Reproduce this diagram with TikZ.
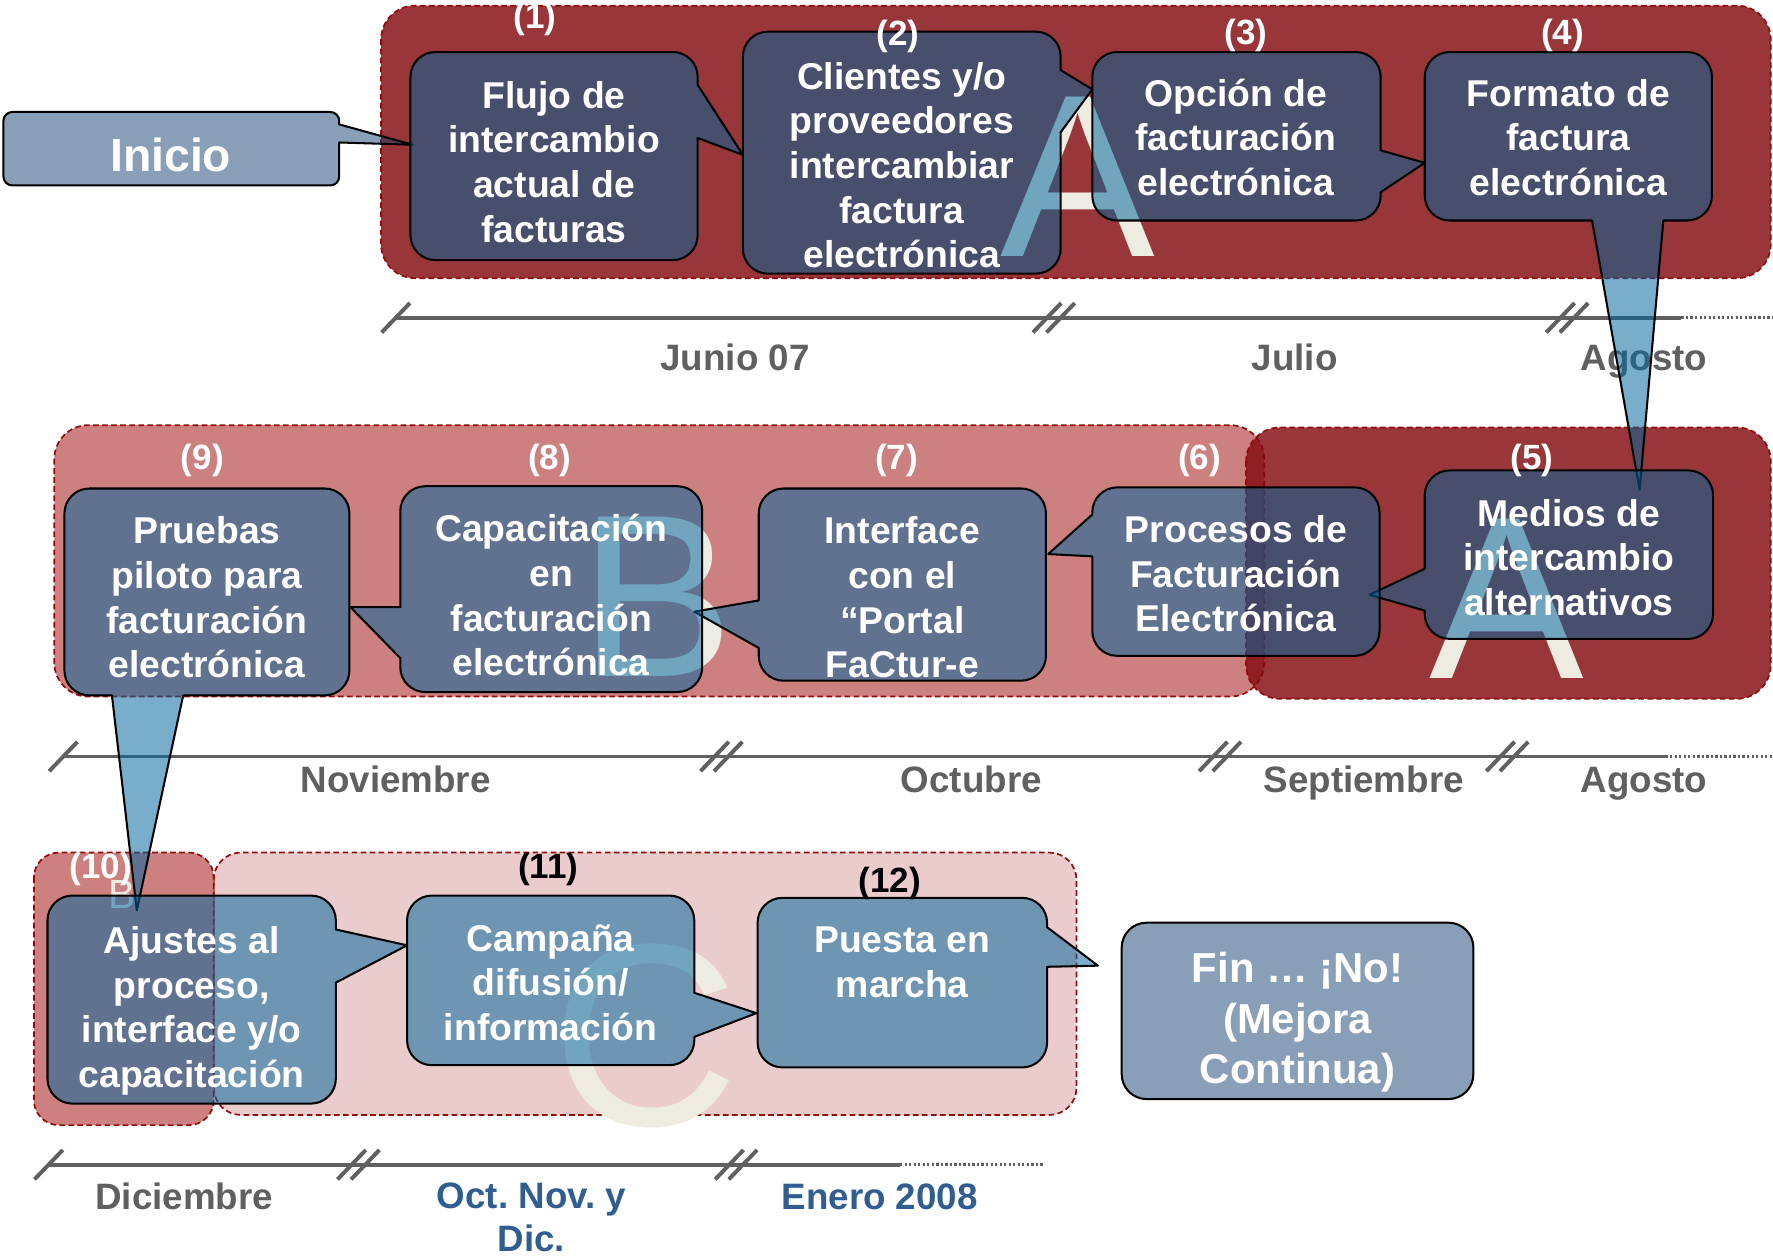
\documentclass[tikz,border=0pt]{standalone}
\usepackage{fontspec}
\setmainfont{Liberation Sans}
\frenchspacing
\definecolor{grpA}{RGB}{130,10,14}
\definecolor{grpB}{RGB}{204,128,128}
\definecolor{grpC}{RGB}{235,204,205}
\definecolor{grpborder}{RGB}{150,10,10}
\definecolor{boxX}{RGB}{0,102,157}
\definecolor{endZ}{RGB}{21,65,113}
\definecolor{cream}{RGB}{238,236,225}
\definecolor{tlgray}{RGB}{96,96,96}
\definecolor{tlblue}{RGB}{49,94,145}
\def\R{22}
% #1 style, #2 x1, #3 y1, #4 x2, #5 y2 (y downwards), #6..#9 pointer inserts on top/right/bottom/left edges
\newcommand\cbox[9]{%
  \filldraw[#1] ({#2+\R},{-(#3)}) #6 -- ({#4-\R},{-(#3)})
    arc[start angle=90,end angle=0,radius=\R] #7 -- (#4,{-(#5)+\R})
    arc[start angle=0,end angle=-90,radius=\R] #8 -- ({#2+\R},{-(#5)})
    arc[start angle=270,end angle=180,radius=\R] #9 -- (#2,{-(#3)-\R})
    arc[start angle=180,end angle=90,radius=\R] -- cycle;}
\newcommand\slashmark[2]{\draw[tl] ({#1-12.5},{-(#2)-13}) -- ({#1+12.5},{-(#2)+13});}
\newcommand\dslash[2]{\slashmark{#1-6}{#2}\slashmark{#1+6}{#2}}
\tikzset{
  grp/.style={draw=grpborder, line width=1.5pt, dash pattern=on 5pt off 3pt},
  grpa/.style={grp, fill=grpA, fill opacity=0.82, draw opacity=1, rounded corners=30pt},
  grpb/.style={grp, fill=grpB, rounded corners=30pt},
  grpc/.style={grp, fill=grpC, rounded corners=24pt},
  cbx/.style={fill=boxX, fill opacity=0.53, draw=black, draw opacity=1, line width=1.8pt, line join=round},
  endbx/.style={fill=endZ, fill opacity=0.5, draw=black, draw opacity=1, line width=1.8pt, line join=round},
  btxt/.style={text=white, font=\bfseries\fontsize{33}{39.5}\selectfont, align=center, inner sep=0pt},
  num/.style={text=white, font=\bfseries\fontsize{31}{31}\selectfont, inner sep=0pt},
  tl/.style={draw=tlgray, line width=3.5pt},
  tldot/.style={draw=tlgray, line width=2.5pt, dash pattern=on 2pt off 2pt},
  tlab/.style={text=tlgray, font=\bfseries\fontsize{32.5}{38}\selectfont, inner sep=0pt, anchor=base, align=center},
  bigl/.style={text=cream, inner sep=0pt, anchor=base}
}
\begin{document}
\begin{tikzpicture}[x=1pt,y=1pt]
\fill[white] (0,0) rectangle (1568,-1112);
\useasboundingbox (0,0) rectangle (1568,-1112);
% groups
\draw[grpa] (337,-5) rectangle (1566,-246);
\draw[grpb] (48,-376) rectangle (1118,-616);
\draw[grpa] (1102,-378) rectangle (1566,-618);
\draw[grpc] (189,-754) rectangle (952,-986);
\draw[grpb, rounded corners=22pt] (30,-754) rectangle (189,-995);
% timelines
\draw[tl] (350,-281) -- (1487,-281);
\draw[tldot] (1487,-281) -- (1568,-281);
\slashmark{350}{281}\dslash{932}{281}\dslash{1386}{281}
\draw[tl] (56,-669) -- (1473,-669);
\draw[tldot] (1473,-669) -- (1568,-669);
\slashmark{56}{669}\dslash{638}{669}\dslash{1079}{669}\dslash{1333}{669}
\draw[tl] (43,-1030) -- (796,-1030);
\draw[tldot] (796,-1030) -- (923,-1030);
\slashmark{43}{1030}\dslash{317}{1030}\dslash{651}{1030}
% timeline labels
\node[tlab] (lJun) at (650,-328) {Junio 07};
\node[tlab] (lJul) at (1145,-328) {Julio};
\node[tlab] (lAgo) at (1454,-328) {Agosto};
\node[tlab] (lNov) at (350,-701) {Noviembre};
\node[tlab] (lOct) at (859,-701) {Octubre};
\node[tlab] (lSep) at (1206,-701) {Septiembre};
\node[tlab] (lAgoB) at (1454,-701) {Agosto};
\node[tlab] (lDic) at (163,-1070) {Diciembre};
\node[tlab, text=tlblue, anchor=north] (lOND) at (470,-1046) {Oct. Nov. y\\Dic.};
\node[tlab, text=tlblue] (lEne) at (778,-1070) {Enero 2008};
% big letters
\node[bigl, font=\fontsize{205}{205}\selectfont] (LA1) at (953,-227) {A};
\node[bigl, font=\fontsize{205}{205}\selectfont] (LA2) at (1333,-600) {A};
\node[bigl, font=\fontsize{205}{205}\selectfont] (LB) at (581,-598) {B};
\node[bigl, font=\fontsize{230}{230}\selectfont] (LC) at (571,-995) {C};
\node[bigl, font=\fontsize{36}{36}\selectfont] (Lb) at (108,-803) {B};
% callout boxes
\def\R{8}
\cbox{endbx}{3}{99}{300}{164}{}{-- (300,-110) -- (365,-128) -- (300,-126)}{}{}
\def\R{22}
\cbox{cbx}{363}{46}{617}{230}{}{-- (617,-75) -- (657,-137) -- (617,-122)}{}{}
\cbox{cbx}{657}{28}{938}{242}{}{-- (938,-62) -- (966,-79) -- (938,-117)}{}{}
\cbox{cbx}{966}{46}{1221}{195}{}{-- (1221,-133) -- (1260,-144) -- (1221,-170)}{}{}
\cbox{cbx}{1260}{46}{1514}{195}{}{}{-- (1471,-195) -- (1450,-433) -- (1408,-195)}{}
\cbox{cbx}{1260}{416}{1515}{565}{}{}{}{-- (1260,-540) -- (1211,-526) -- (1260,-503)}
\cbox{cbx}{966}{431}{1220}{580}{}{}{}{-- (966,-492) -- (927,-490) -- (966,-455)}
\cbox{cbx}{671}{432}{925}{602}{}{}{}{-- (671,-573) -- (614,-541) -- (671,-531)}
\cbox{cbx}{354}{430}{621}{612}{}{}{}{-- (354,-582) -- (310,-537) -- (354,-537)}
\cbox{cbx}{57}{432}{309}{615}{}{}{-- (162,-615) -- (121,-805) -- (99,-615)}{}
\cbox{cbx}{42}{792}{297}{976}{}{-- (297,-822) -- (360,-836) -- (297,-869)}{}{}
\cbox{cbx}{360}{792}{614}{942}{}{-- (614,-878) -- (669,-896) -- (614,-917)}{}{}
\cbox{cbx}{670}{794}{926}{944}{}{-- (926,-820) -- (971,-854) -- (926,-855)}{}{}
\cbox{endbx}{992}{816}{1303}{972}{}{}{}{}
% box texts
\node[btxt, font=\bfseries\fontsize{41}{41}\selectfont] (tInicio) at (151,-137) {Inicio};
\node[btxt] (t1) at (490,-143) {Flujo de\\intercambio\\actual de\\facturas};
\node[btxt] (t2) at (797.5,-146) {Clientes y/o\\proveedores\\intercambiar\\factura\\electrónica};
\node[btxt] (t3) at (1093,-121.5) {Opción de\\facturación\\electrónica};
\node[btxt] (t4) at (1387,-121.5) {Formato de\\factura\\electrónica};
\node[btxt] (t5) at (1387.5,-493) {Medios de\\intercambio\\alternativos};
\node[btxt] (t6) at (1093,-507.5) {Procesos de\\Facturación\\Electrónica};
\node[btxt] (t7) at (798,-528.5) {Interface\\con el\\“Portal\\FaCtur-e};
\node[btxt] (t8) at (487.5,-526.5) {Capacitación\\en\\facturación\\electrónica};
\node[btxt] (t9) at (183,-528.5) {Pruebas\\piloto para\\facturación\\electrónica};
\node[btxt] (t10) at (169.5,-894) {Ajustes al\\proceso,\\interface y/o\\capacitación};
\node[btxt] (t11) at (487,-869) {Campaña\\difusión/\\información};
\node[btxt] (t12) at (798,-851) {Puesta en\\marcha};
\node[btxt, font=\bfseries\fontsize{37}{45}\selectfont] (tFin) at (1147.5,-904) {Fin … ¡No!\\(Mejora\\Continua)};
% step numbers
\node[num] (n1) at (473,-17) {(1)};
\node[num] (n2) at (794,-32) {(2)};
\node[num] (n3) at (1102,-31) {(3)};
\node[num] (n4) at (1382,-31) {(4)};
\node[num] (n5) at (1355,-407) {(5)};
\node[num] (n6) at (1061,-407) {(6)};
\node[num] (n7) at (793,-407) {(7)};
\node[num] (n8) at (486,-407) {(8)};
\node[num] (n9) at (179,-407) {(9)};
\node[num] (n10) at (89,-769) {(10)};
\node[num, text=black] (n11) at (485,-769) {(11)};
\node[num, text=black] (n12) at (787,-781) {(12)};
\end{tikzpicture}
\end{document}
